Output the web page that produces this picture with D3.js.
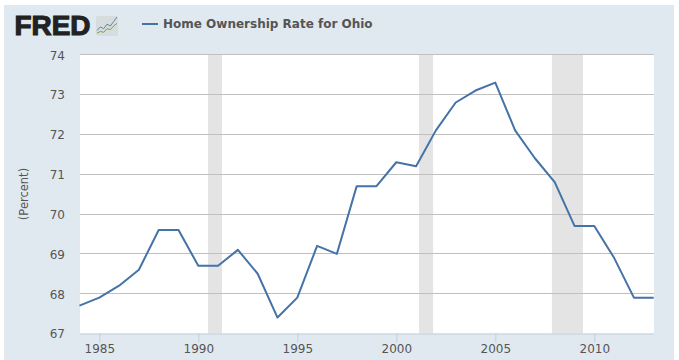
<!DOCTYPE html>
<html><head><meta charset="utf-8">
<script src="https://cdn.jsdelivr.net/npm/d3@7/dist/d3.min.js"></script>
<style>html,body{margin:0;padding:0;background:#fff}svg{display:block}text{font-family:"DejaVu Sans",sans-serif}</style>
</head><body><svg id="c" width="679" height="360"></svg>
<script>
const years=[1984,1985,1986,1987,1988,1989,1990,1991,1992,1993,1994,1995,1996,1997,1998,1999,2000,2001,2002,2003,2004,2005,2006,2007,2008,2009,2010,2011,2012,2013];
const rates=[67.7,67.9,68.2,68.6,69.6,69.6,68.7,68.7,69.1,68.5,67.4,67.9,69.2,69.0,70.7,70.7,71.3,71.2,72.1,72.8,73.1,73.3,72.1,71.4,70.8,69.7,69.7,68.9,67.9,67.9];
const recessionStart=[1990.49,2001.15,2007.86];
const recessionEnd=[1991.2,2001.86,2009.43];
const yTicks=[67,68,69,70,71,72,73,74];
const xTicks=[1985,1990,1995,2000,2005,2010];
const seriesName="Home Ownership Rate for Ohio";
const yLabel="(Percent)";
const logoGreen=[2,4,3,7,6,10,13],logoBlue=[5,9,7,12,10,15,20];

const svg=d3.select("#c");
svg.append("rect").attr("x",4).attr("y",5).attr("width",670).attr("height",355).attr("fill","#e1e9f0");
const x=d3.scaleLinear().domain([1984,2013]).range([79.5,653.7]);
const y=d3.scaleLinear().domain([67,74]).range([333.5,54.7]);
svg.append("rect").attr("x",80).attr("y",54).attr("width",574).attr("height",279.5).attr("fill","#fff");
svg.append("g").selectAll("rect").data(recessionStart).join("rect")
  .attr("x",d=>x(d)).attr("y",54).attr("width",(d,i)=>x(recessionEnd[i])-x(d)).attr("height",279.5).attr("fill","#e4e4e4");
svg.append("g").selectAll("line").data(yTicks.slice(1)).join("line")
  .attr("x1",80).attr("x2",654).attr("y1",d=>Math.floor(y(d))+0.5).attr("y2",d=>Math.floor(y(d))+0.5)
  .attr("stroke","#c0c0c0").attr("stroke-width",1);
const yg=svg.append("g").attr("transform","translate(80,0.6)").call(d3.axisLeft(y).tickValues(yTicks).tickSize(0).tickPadding(15).tickFormat(d3.format("d")));
yg.select(".domain").remove();
yg.selectAll("text").attr("font-size",12).attr("fill","#555").attr("font-family",'"DejaVu Sans",sans-serif');
const xg=svg.append("g").attr("transform","translate(0,333.5)").call(d3.axisBottom(x).tickValues(xTicks).tickSize(9).tickSizeOuter(0).tickPadding(2).tickFormat(d3.format("d")));
xg.select(".domain").attr("stroke","#c0d0e0").attr("d","M80,0.5H654");
xg.selectAll("line").attr("stroke","#c0d0e0");
xg.selectAll("text").attr("font-size",12).attr("fill","#555").attr("font-family",'"DejaVu Sans",sans-serif');
svg.append("path").datum(years.map((d,i)=>[d,rates[i]]))
  .attr("d",d3.line().x(d=>x(d[0])).y(d=>y(d[1])))
  .attr("fill","none").attr("stroke","#4572a7").attr("stroke-width",2).attr("stroke-linejoin","round");
svg.append("text").attr("transform","translate(28,194) rotate(-90)").attr("text-anchor","middle").attr("font-size",11.5).attr("fill","#555").text(yLabel);
// legend
svg.append("line").attr("x1",142).attr("x2",158).attr("y1",24).attr("y2",24).attr("stroke","#4572a7").attr("stroke-width",2);
svg.append("text").attr("x",163).attr("y",28).attr("font-size",12).attr("font-weight","bold").attr("fill","#555").text(seriesName);
// logo
svg.append("text").attr("x",14.5).attr("y",35.3).style("font-family",'"Liberation Sans",sans-serif').attr("font-size",27).attr("font-weight","bold").attr("stroke","#222").attr("stroke-width",1.1).attr("fill","#222").attr("textLength",76).attr("lengthAdjust","spacingAndGlyphs").text("FRED");
const g=svg.append("g").attr("transform","translate(96,16)");
g.append("rect").attr("width",22).attr("height",20).attr("rx",2).attr("fill","#d6dddc");
const lx=d3.scaleLinear().domain([0,6]).range([1,21]),ly=d3.scaleLinear().domain([0,20]).range([19,1]);
const l=d3.line().x((d,i)=>lx(i)).y(d=>ly(d));
g.append("path").attr("d",l(logoGreen)).attr("fill","none").attr("stroke","#7f9f4f").attr("stroke-width",1);
g.append("path").attr("d",l(logoBlue)).attr("fill","none").attr("stroke","#5f85ae").attr("stroke-width",1);
</script></body></html>
